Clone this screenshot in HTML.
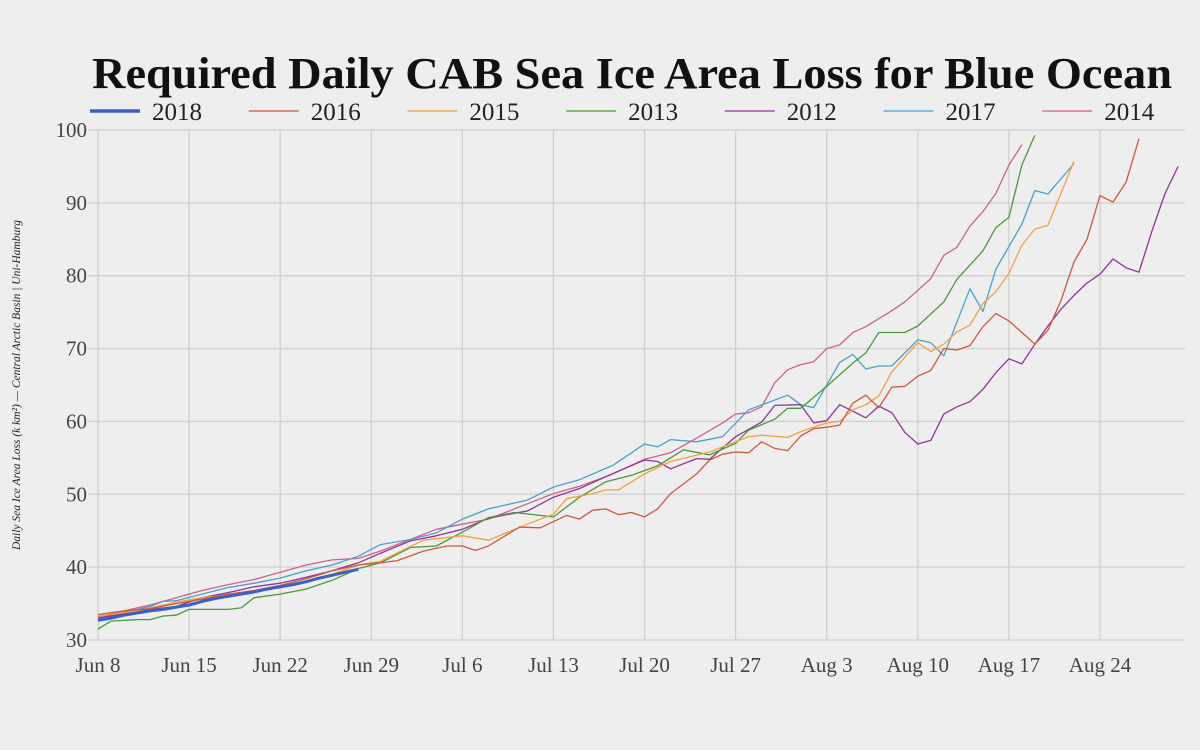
<!DOCTYPE html>
<html><head><meta charset="utf-8">
<style>
html,body{margin:0;padding:0;background:#eeeeee;}
svg{display:block;font-family:"Liberation Serif",serif;}
</style></head>
<body>
<svg id="chart" width="1200" height="750" viewBox="0 0 1200 750">
<rect width="1200" height="750" fill="#eeeeee"/>
<text x="92" y="88" textLength="1080" lengthAdjust="spacingAndGlyphs" font-size="44" font-weight="bold" fill="#111">Required Daily CAB Sea Ice Area Loss for Blue Ocean</text>
<g id="grid"></g>
<g id="legend"></g>
<g id="series"></g>
<text transform="translate(20,385) rotate(-90)" text-anchor="middle" font-size="11.5" font-style="italic" fill="#222">Daily Sea Ice Area Loss (k km²) — Central Arctic Basin | Uni-Hamburg</text>
</svg>
<script>
const xTickLabels=["Jun 8","Jun 15","Jun 22","Jun 29","Jul 6","Jul 13","Jul 20","Jul 27","Aug 3","Aug 10","Aug 17","Aug 24"];
const xTickDays=[0,7,14,21,28,35,42,49,56,63,70,77];
const yTicks=[30,40,50,60,70,80,90,100];
const seriesNames=["2018","2016","2015","2013","2012","2017","2014"];
const seriesColors=["#3a5fc8","#d0573a","#f0a040","#4a9a3a","#8e3598","#4aa0c8","#d0608a"];
const days2018=[0,1,2,3,4,5,6,7,8,9,10,11,12,13,14,15,16,17,18,19,20];
const vals2018=[32.7,33.0,33.4,33.7,34.0,34.2,34.5,34.8,35.3,35.7,36.0,36.3,36.6,37.0,37.3,37.6,38.0,38.5,38.9,39.3,39.7];
const days2016=[0,2,4,6,8,10,12,14,16,18,20,21.7,23,25,26.8,28,29,30,32.4,34,36,37,38,39,40,41,42,43,44,46,47,48,49,50,51,52,53,54,55,56,57,58,59,60,61,62,63,64,65,66,67,68,69,70,71,72,73,74,75,76,77,78,79,80];
const vals2016=[33.5,34,34.3,35,35.6,36.3,36.8,37.5,38.4,39.5,40.3,40.6,40.9,42.2,42.9,42.9,42.3,42.9,45.5,45.4,47.1,46.6,47.8,48,47.2,47.5,46.9,48,50.1,52.8,54.7,55.5,55.8,55.7,57.2,56.3,56,58,59,59.2,59.5,62.5,63.6,61.9,64.7,64.8,66.2,67,70,69.8,70.4,73,74.8,73.8,72.2,70.6,72.5,76.6,81.9,85,91,90.1,92.8,98.8];
const days2015=[0,3,6,8,10,12,14,16,18,20,21.7,25,28,30,33,35,36,38,39,40,42,44,47,50,51,53,54,56,57,58,59,60,61,63,64,65,66,67,68,69,70,71,72,73,75];
const vals2015=[33.3,34,35.2,35.8,36.2,36.7,37.5,38,39,40.3,40.8,43.7,44.3,43.7,45.9,47.3,49.4,50.1,50.6,50.6,52.8,54.5,55.8,57.9,58.1,57.8,58.6,59.8,60,61.6,62.3,63.5,66.8,70.8,69.6,70.6,72.3,73.2,76.2,77.8,80.3,84.2,86.4,86.9,95.7];
const days2013=[0,1,3,4,5,6,7,8,10,11,12,14,16,18,20,21.7,24,26,28,30,32,35,37,39,41,43,45,47,49,50,52,53,54,56,58,59,60,62,63,65,66,68,69,70,71,72];
const vals2013=[31.5,32.6,32.8,32.8,33.3,33.4,34.2,34.2,34.2,34.4,35.8,36.3,37,38.2,39.8,40.6,42.7,42.9,44.8,46.8,47.5,46.9,49.6,51.7,52.6,53.9,56.1,55.4,57,58.8,60.3,61.8,61.8,64.8,68,69.4,72.2,72.2,73.1,76.4,79.5,83.4,86.6,88,95.2,99.3];
const days2012=[0,2,4,6,8,10,12,14,16,18,20,21.7,24,26,28,30,32,33,35,37,39,42,43,44,46,47,49,51,52,54,55,56,57,58,59,60,61,62,63,64,65,66,67,68,69,70,71,72,73,74,75,76,77,78,79,80,81,82,83];
const vals2012=[33,33.6,34.2,34.6,35.8,36.5,37.3,37.8,38.6,39.5,40.6,41.9,43.6,44.3,45.2,46.7,47.4,47.7,49.6,50.8,52.4,54.7,54.5,53.5,54.9,54.8,57.9,59.9,62.2,62.3,59.8,60.1,62.3,61.4,60.5,62.1,61.2,58.5,56.9,57.4,61,62,62.7,64.4,66.7,68.6,67.9,70.6,73.1,75.4,77.3,79,80.2,82.3,81.1,80.5,86.2,91.3,95];
const days2017=[0,2,4,5,6,8,10,12,14,16,18,20,21.7,24,26,28,30,33,35,37,39.6,42,43,44,46,48,50,53,54,55,57,58,59,60,61,63,64,65,67,68,69,71,72,73,75];
const vals2017=[33,33.8,34.6,35.3,35.4,36.3,37.2,37.8,38.5,39.5,40.3,41.5,43.1,43.8,44.7,46.6,48,49.2,51,52,54,56.9,56.5,57.5,57.2,57.9,61.6,63.6,62.3,61.9,68.1,69.2,67.2,67.6,67.6,71.2,70.8,69,78.2,75.1,80.9,87.1,91.7,91.2,95.4];
const days2014=[0,2,4,6,8,10,12,14,16,18,20,21.7,26,28,30,33,35,37,39.3,42,44,46,48,49,50,51,52,53,54,55,56,57,58,59,60,61,62,63,64,65,66,67,68,69,70,71];
const vals2014=[33.2,34,34.8,35.8,36.8,37.6,38.3,39.3,40.3,41,41.2,42.2,45.2,45.9,46.6,48.7,50.1,51.1,52.6,54.8,55.7,57.7,59.8,61,61.2,62,65.3,67.1,67.8,68.2,70,70.5,72.2,73,74.1,75.2,76.4,78,79.6,82.8,83.9,86.8,88.8,91.3,95.2,98];
const seriesDays=[days2018,days2016,days2015,days2013,days2012,days2017,days2014];
const seriesVals=[vals2018,vals2016,vals2015,vals2013,vals2012,vals2017,vals2014];

const NS="http://www.w3.org/2000/svg";
const X0=98, DX=13.013, Y0=640, DY=7.286;
function xScale(d){return X0+d*DX;}
function yScale(v){return Y0-(v-30)*DY;}
function mk(tag,attrs,parent){const e=document.createElementNS(NS,tag);for(const k in attrs)e.setAttribute(k,attrs[k]);parent.appendChild(e);return e;}

const grid=document.getElementById('grid');
yTicks.forEach(v=>{
  const l=mk('line',{x1:88,x2:1185,y1:yScale(v),y2:yScale(v),stroke:'#cfcfcf','stroke-width':1.3},grid);
  
  
  const t=mk('text',{x:87,y:yScale(v)+7,'text-anchor':'end','font-size':21,fill:'#444'},grid);
  
  
  t.textContent=v;
});
xTickDays.forEach((d,i)=>{
  const l=mk('line',{x1:xScale(d),x2:xScale(d),y1:130,y2:640,stroke:'#cfcfcf','stroke-width':1.3},grid);
  
  
  const t=mk('text',{x:xScale(d),y:672,'text-anchor':'middle','font-size':21,fill:'#444'},grid);
  
  
  t.textContent=xTickLabels[i];
});

const legend=document.getElementById('legend');
seriesNames.forEach((n,i)=>{
  const tx=152+i*158.7;
  const l=mk('line',{x1:tx-62,x2:tx-12,y1:111,y2:111,stroke:seriesColors[i],'stroke-width':i===0?3.5:1.3},legend);
  
  
  const t=mk('text',{x:tx,y:120,'font-size':25,fill:'#222'},legend);
  
  
  t.textContent=n;
});

const sg=document.getElementById('series');
for(let i=seriesNames.length-1;i>=0;i--){
  const pts=seriesDays[i].map((d,j)=>xScale(d).toFixed(1)+','+yScale(seriesVals[i][j]).toFixed(1)).join(' ');
  const p=mk('polyline',{points:pts,fill:'none',stroke:seriesColors[i],'stroke-width':i===0?3:1.3,'stroke-linejoin':'round'},sg);
  
  
}
</script>
</body></html>
